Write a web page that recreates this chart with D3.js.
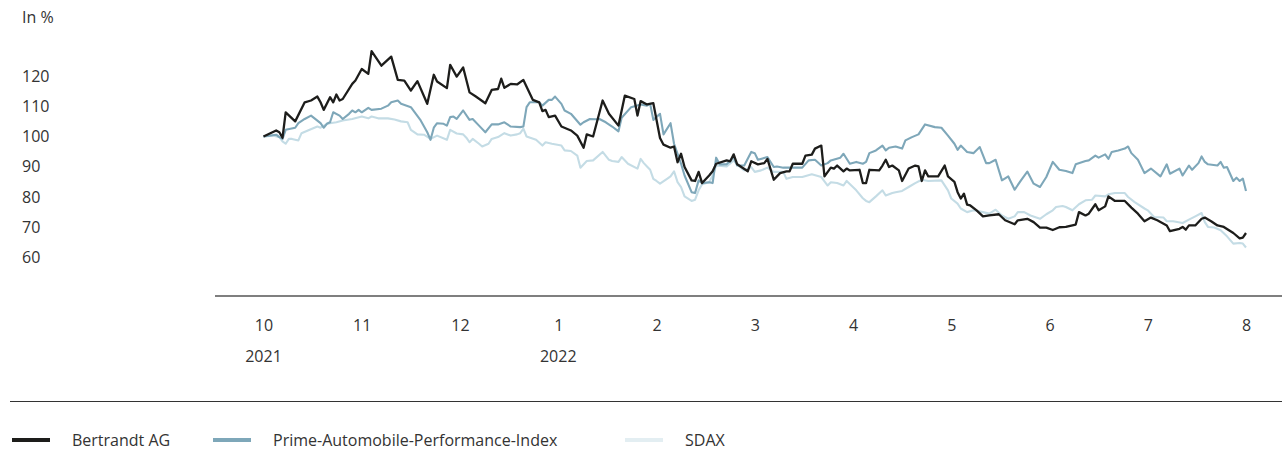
<!DOCTYPE html>
<html>
<head>
<meta charset="utf-8">
<script src="https://cdn.jsdelivr.net/npm/d3@7"></script>
<style>
  body { margin: 0; background: #fff; }
  svg text { font-family: "Open Sans", sans-serif; fill: #333; }
</style>
</head>
<body>
<svg id="chart" width="1282" height="450"></svg>
<script>
// Werte in % (Basis 100 = 1.10.2021)
const bertrandt = [["2021-10-01",100],["2021-10-05",102],["2021-10-06",101.4],["2021-10-07",99.6],["2021-10-08",108],["2021-10-11",105],["2021-10-14",111.3],["2021-10-16",111.9],["2021-10-18",113.2],["2021-10-19",111.3],["2021-10-20",108.8],["2021-10-22",113],["2021-10-23",111.3],["2021-10-24",113.9],["2021-10-25",111.9],["2021-10-26",112.4],["2021-10-29",117.4],["2021-10-30",118.5],["2021-11-01",122.3],["2021-11-03",120.7],["2021-11-04",128.2],["2021-11-07",123.4],["2021-11-10",126.4],["2021-11-12",118.7],["2021-11-14",118.5],["2021-11-16",115.2],["2021-11-18",118.3],["2021-11-21",110.8],["2021-11-23",120.4],["2021-11-24",118.2],["2021-11-27",116],["2021-11-28",123.7],["2021-11-30",119.8],["2021-12-02",122.8],["2021-12-04",114.6],["2021-12-06",113.2],["2021-12-09",111],["2021-12-11",115.4],["2021-12-13",115.7],["2021-12-14",119.1],["2021-12-15",116.1],["2021-12-17",117.4],["2021-12-19",117.2],["2021-12-21",118.7],["2021-12-24",112.1],["2021-12-26",111.3],["2021-12-27",108.4],["2021-12-28",108.8],["2021-12-29",106.4],["2021-12-31",106.9],["2022-01-02",103.3],["2022-01-05",102],["2022-01-07",100.3],["2022-01-09",96.3],["2022-01-10",100.7],["2022-01-12",100],["2022-01-15",111.9],["2022-01-17",107.5],["2022-01-20",103.6],["2022-01-22",113.5],["2022-01-25",112.4],["2022-01-26",106.9],["2022-01-27",111.7],["2022-01-29",110.6],["2022-01-31",111],["2022-02-02",99.5],["2022-02-03",97.3],["2022-02-05",96.3],["2022-02-06",96.7],["2022-02-07",91.5],["2022-02-08",94.3],["2022-02-09",89.9],["2022-02-11",85.5],["2022-02-12",85.3],["2022-02-13",88.3],["2022-02-14",84.6],["2022-02-16",87.1],["2022-02-17",88.5],["2022-02-18",91],["2022-02-21",92.1],["2022-02-22",91.8],["2022-02-23",94.1],["2022-02-24",90.8],["2022-02-27",88.5],["2022-02-28",91.8],["2022-03-02",90.8],["2022-03-04",91.2],["2022-03-05",92.6],["2022-03-07",85.7],["2022-03-09",87.9],["2022-03-11",88.5],["2022-03-12",88.5],["2022-03-13",91],["2022-03-16",91],["2022-03-17",93.7],["2022-03-19",94],["2022-03-20",96],["2022-03-22",97],["2022-03-23",86.8],["2022-03-25",89.7],["2022-03-26",89.4],["2022-03-27",90.4],["2022-03-29",88.5],["2022-03-30",89.4],["2022-03-31",88.8],["2022-04-03",89],["2022-04-04",84.6],["2022-04-05",84.6],["2022-04-06",89],["2022-04-09",88.8],["2022-04-10",90.4],["2022-04-11",92.3],["2022-04-12",89.9],["2022-04-13",90.4],["2022-04-15",88.8],["2022-04-16",85.3],["2022-04-18",89.4],["2022-04-20",90.4],["2022-04-21",90.1],["2022-04-22",85.3],["2022-04-23",88.8],["2022-04-24",86.8],["2022-04-27",86.8],["2022-04-29",90.4],["2022-04-30",86.8],["2022-05-02",85],["2022-05-03",81.6],["2022-05-04",79.5],["2022-05-05",81.1],["2022-05-06",77.5],["2022-05-07",77.2],["2022-05-09",75.6],["2022-05-11",73.6],["2022-05-13",73.9],["2022-05-16",74.3],["2022-05-18",72.3],["2022-05-21",71],["2022-05-22",72.3],["2022-05-25",72.8],["2022-05-27",71.7],["2022-05-29",69.9],["2022-05-31",69.9],["2022-06-02",69.1],["2022-06-04",70],["2022-06-06",70.1],["2022-06-09",70.9],["2022-06-10",75],["2022-06-12",73.9],["2022-06-13",74.5],["2022-06-15",77.6],["2022-06-16",75.6],["2022-06-18",76.9],["2022-06-19",80.2],["2022-06-21",78.7],["2022-06-24",78.7],["2022-06-26",76.5],["2022-06-28",74.5],["2022-06-30",72],["2022-07-02",73.2],["2022-07-04",72.3],["2022-07-07",70.6],["2022-07-08",68.7],["2022-07-11",69.5],["2022-07-12",70.1],["2022-07-13",69.2],["2022-07-14",70.6],["2022-07-16",70.6],["2022-07-18",72.8],["2022-07-19",73.2],["2022-07-21",72],["2022-07-23",70.6],["2022-07-25",70.1],["2022-07-28",68.1],["2022-07-30",66.3],["2022-07-31",66.6],["2022-08-01",68.1]];

const primeAuto = [["2021-10-01",100],["2021-10-05",100.6],["2021-10-06",99.8],["2021-10-07",99.2],["2021-10-08",102.2],["2021-10-11",102.9],["2021-10-12",104.4],["2021-10-14",105.8],["2021-10-16",106.9],["2021-10-19",104.4],["2021-10-20",102.9],["2021-10-21",104.2],["2021-10-22",104.7],["2021-10-23",108],["2021-10-25",106.9],["2021-10-26",105.8],["2021-10-28",107.5],["2021-10-29",108.6],["2021-10-30",108],["2021-10-31",108.8],["2021-11-01",108],["2021-11-03",109.5],["2021-11-04",108.8],["2021-11-07",109.2],["2021-11-09",110.2],["2021-11-10",111.3],["2021-11-12",111.9],["2021-11-13",110.8],["2021-11-16",109.7],["2021-11-19",105.3],["2021-11-21",101.4],["2021-11-22",98.9],["2021-11-23",102.9],["2021-11-24",104.4],["2021-11-26",104.2],["2021-11-27",103.6],["2021-11-28",106.4],["2021-11-29",106.6],["2021-11-30",105.8],["2021-12-02",108.6],["2021-12-04",105.5],["2021-12-05",105.8],["2021-12-07",103.6],["2021-12-09",101.4],["2021-12-11",104],["2021-12-13",104],["2021-12-15",104.7],["2021-12-17",103.3],["2021-12-20",103.1],["2021-12-21",103.3],["2021-12-22",109.7],["2021-12-23",111.3],["2021-12-26",111.3],["2021-12-27",110.2],["2021-12-29",112.1],["2021-12-30",112.1],["2021-12-31",113.2],["2022-01-02",110.8],["2022-01-03",108.6],["2022-01-05",107.5],["2022-01-08",103.9],["2022-01-09",104.7],["2022-01-11",105.8],["2022-01-13",105.7],["2022-01-14",105.8],["2022-01-16",104.7],["2022-01-18",103.3],["2022-01-20",101.7],["2022-01-21",106.2],["2022-01-24",109.7],["2022-01-27",110.6],["2022-01-29",110.2],["2022-01-30",110.8],["2022-01-31",105.5],["2022-02-02",107.5],["2022-02-03",100.7],["2022-02-05",104.4],["2022-02-06",97.6],["2022-02-08",91],["2022-02-09",87.1],["2022-02-11",81.6],["2022-02-12",81.3],["2022-02-13",85.5],["2022-02-14",84.6],["2022-02-16",84.9],["2022-02-17",84.6],["2022-02-18",93],["2022-02-19",90.8],["2022-02-21",90.8],["2022-02-23",93.2],["2022-02-24",90.4],["2022-02-26",90.4],["2022-02-28",94.9],["2022-03-01",94.5],["2022-03-02",92.3],["2022-03-05",93.2],["2022-03-07",89.9],["2022-03-08",90.1],["2022-03-10",89.7],["2022-03-13",89.7],["2022-03-16",89.7],["2022-03-18",92.1],["2022-03-20",92.3],["2022-03-22",90.4],["2022-03-24",91.2],["2022-03-25",92.1],["2022-03-28",93],["2022-03-29",94.3],["2022-03-31",91],["2022-04-02",91.6],["2022-04-04",91],["2022-04-05",91.6],["2022-04-06",94.5],["2022-04-08",95.4],["2022-04-10",97],["2022-04-11",95.4],["2022-04-12",96.3],["2022-04-14",96.7],["2022-04-16",96],["2022-04-17",98.7],["2022-04-19",99.8],["2022-04-21",100.7],["2022-04-23",104],["2022-04-26",103.1],["2022-04-28",102.9],["2022-04-30",100.3],["2022-05-02",97.6],["2022-05-03",95.6],["2022-05-04",97],["2022-05-06",94.9],["2022-05-08",94.5],["2022-05-10",96.5],["2022-05-12",91.2],["2022-05-13",91.2],["2022-05-15",92.3],["2022-05-17",85.5],["2022-05-19",86.8],["2022-05-21",82.4],["2022-05-23",85.5],["2022-05-25",88.4],["2022-05-27",84.4],["2022-05-29",83.3],["2022-05-31",86.6],["2022-06-02",91.6],["2022-06-04",89],["2022-06-06",88.6],["2022-06-08",87.9],["2022-06-09",90.8],["2022-06-12",91.9],["2022-06-13",92.1],["2022-06-15",93.7],["2022-06-16",93],["2022-06-18",94.1],["2022-06-19",92.6],["2022-06-20",94.9],["2022-06-22",95.4],["2022-06-24",96],["2022-06-25",96.7],["2022-06-26",94.5],["2022-06-28",92.3],["2022-06-30",87.9],["2022-07-02",89.4],["2022-07-05",86.8],["2022-07-07",90.8],["2022-07-08",87.7],["2022-07-11",89.4],["2022-07-12",87.1],["2022-07-14",90.4],["2022-07-15",89],["2022-07-17",91.2],["2022-07-18",93.4],["2022-07-19",91.6],["2022-07-20",90.8],["2022-07-23",90.4],["2022-07-24",91.6],["2022-07-25",89.7],["2022-07-26",89.9],["2022-07-28",85.3],["2022-07-29",86.4],["2022-07-30",85.3],["2022-07-31",86.1],["2022-08-01",82]];

const sdax = [["2021-10-01",100],["2021-10-04",100.3],["2021-10-06",99.8],["2021-10-07",98.4],["2021-10-08",97.6],["2021-10-09",99.2],["2021-10-10",99.2],["2021-10-12",98.7],["2021-10-13",101.1],["2021-10-15",102],["2021-10-18",103.3],["2021-10-19",102.9],["2021-10-21",104.2],["2021-10-24",104.7],["2021-10-26",105.3],["2021-10-29",105.8],["2021-11-01",106.6],["2021-11-03",106],["2021-11-04",106.6],["2021-11-06",106],["2021-11-09",106],["2021-11-11",105.6],["2021-11-13",105],["2021-11-15",104.7],["2021-11-16",102.2],["2021-11-18",100.7],["2021-11-20",100.6],["2021-11-22",99.2],["2021-11-24",100.3],["2021-11-27",98.9],["2021-11-28",102.2],["2021-11-30",101],["2021-12-02",100.7],["2021-12-03",99.6],["2021-12-04",98.1],["2021-12-05",99.2],["2021-12-07",97.6],["2021-12-08",96.7],["2021-12-10",97.6],["2021-12-11",99.2],["2021-12-13",99.8],["2021-12-15",101.1],["2021-12-17",100.3],["2021-12-19",100.7],["2021-12-20",101.1],["2021-12-21",102.6],["2021-12-22",100],["2021-12-25",98.9],["2021-12-27",97],["2021-12-28",98.1],["2021-12-30",97.6],["2022-01-02",97],["2022-01-03",95.4],["2022-01-05",95.2],["2022-01-07",93.7],["2022-01-08",89.7],["2022-01-10",91.9],["2022-01-12",92.1],["2022-01-15",94.9],["2022-01-17",92.3],["2022-01-18",91.9],["2022-01-20",91.6],["2022-01-21",93.2],["2022-01-23",91],["2022-01-26",89.4],["2022-01-27",92.6],["2022-01-28",91.2],["2022-01-29",90.1],["2022-01-30",89],["2022-01-31",86],["2022-02-01",85.3],["2022-02-02",84.4],["2022-02-04",86],["2022-02-05",86.8],["2022-02-06",88.5],["2022-02-07",84.9],["2022-02-08",83.3],["2022-02-09",80.2],["2022-02-11",78.7],["2022-02-12",79.1],["2022-02-13",82.2],["2022-02-14",84.2],["2022-02-16",84.9],["2022-02-17",87.1],["2022-02-18",90.4],["2022-02-21",90.1],["2022-02-23",92.1],["2022-02-25",89.7],["2022-02-26",88.8],["2022-02-28",89.9],["2022-03-01",88.3],["2022-03-03",88.8],["2022-03-05",89.7],["2022-03-07",88.3],["2022-03-10",88.3],["2022-03-11",86],["2022-03-13",86.6],["2022-03-16",86.6],["2022-03-19",87.5],["2022-03-22",86.6],["2022-03-24",83.8],["2022-03-25",84.9],["2022-03-27",84.6],["2022-03-29",83.8],["2022-03-30",85.3],["2022-04-02",82.2],["2022-04-04",79.6],["2022-04-05",78.7],["2022-04-06",78.3],["2022-04-08",80.2],["2022-04-10",82.2],["2022-04-11",80.5],["2022-04-13",81.3],["2022-04-14",81.6],["2022-04-16",82],["2022-04-18",83.3],["2022-04-20",84.6],["2022-04-22",85.7],["2022-04-24",85.3],["2022-04-28",85.5],["2022-04-30",82.2],["2022-05-01",79.5],["2022-05-03",77.8],["2022-05-04",76.2],["2022-05-06",75],["2022-05-08",75.6],["2022-05-11",75],["2022-05-13",74.5],["2022-05-15",75.8],["2022-05-17",73.9],["2022-05-19",72.8],["2022-05-21",73.6],["2022-05-22",75],["2022-05-24",75],["2022-05-26",73.9],["2022-05-29",72.8],["2022-05-31",74.3],["2022-06-02",75.6],["2022-06-03",76.7],["2022-06-05",77],["2022-06-06",76.7],["2022-06-08",75.6],["2022-06-10",77.6],["2022-06-12",78.9],["2022-06-14",79.1],["2022-06-15",80.5],["2022-06-18",80.2],["2022-06-19",80.9],["2022-06-21",81.3],["2022-06-24",81.3],["2022-06-25",80],["2022-06-27",78.3],["2022-06-30",76.2],["2022-07-01",75.6],["2022-07-03",73.4],["2022-07-06",73.2],["2022-07-07",72],["2022-07-09",72],["2022-07-12",71.4],["2022-07-14",72.5],["2022-07-16",73.6],["2022-07-18",74.7],["2022-07-19",71.7],["2022-07-20",70.1],["2022-07-22",69.9],["2022-07-24",69],["2022-07-26",67],["2022-07-28",64.6],["2022-07-30",64.8],["2022-07-31",64.6],["2022-08-01",63.3]];

const yTicks = [60, 70, 80, 90, 100, 110, 120];
const monthStarts = ["2021-10-01","2021-11-01","2021-12-01","2022-01-01","2022-02-01","2022-03-01","2022-04-01","2022-05-01","2022-06-01","2022-07-01","2022-08-01"];
const yearLabels = [["2021-10-01","2021"],["2022-01-01","2022"]];

const seriesNames = ["Bertrandt AG", "Prime-Automobile-Performance-Index", "SDAX"];
const seriesColors = ["#1d1d1b", "#7ea7b9", "#c4dce5"];

const parse = d3.timeParse("%Y-%m-%d");
const svg = d3.select("#chart");
const fs = "16px";

// Monate gleich breit, wie im Original
const months = monthStarts.map(parse);
const x = d3.scaleTime()
    .domain(months)
    .range(months.map((d, i) => 263.5 + i * 98.25));

const y = d3.scaleLinear().domain([60, 120]).range([257.5, 76]);

// Einheit
svg.append("text")
    .attr("x", 22).attr("y", 23)
    .style("font-size", fs)
    .text("In %");

// Y-Achse (nur Beschriftung)
const yAxis = svg.append("g")
    .call(d3.axisLeft(y).tickValues(yTicks).tickSize(0));
yAxis.select(".domain").remove();
yAxis.selectAll("text")
    .attr("x", 22).attr("dx", 0)
    .attr("text-anchor", "start")
    .style("font-size", fs)
    .style("font-family", "'Open Sans', sans-serif")
    .attr("fill", "#333");

// Grundlinie
svg.append("line")
    .attr("x1", 215).attr("x2", 1282)
    .attr("y1", 296).attr("y2", 296)
    .attr("stroke", "#555").attr("stroke-width", 1.3);

// X-Achse: Monate
const xAxis = svg.append("g")
    .attr("transform", "translate(0,320)")
    .call(d3.axisBottom(x).tickValues(months).tickSize(0).tickFormat(d => d.getMonth() + 1));
xAxis.select(".domain").remove();
xAxis.selectAll("text")
    .attr("y", 0).attr("dy", "0.71em")
    .style("font-size", fs)
    .style("font-family", "'Open Sans', sans-serif")
    .attr("fill", "#333");

// Jahre
svg.append("g").selectAll("text").data(yearLabels).join("text")
    .attr("x", d => x(parse(d[0])))
    .attr("y", 362)
    .attr("text-anchor", "middle")
    .style("font-size", fs)
    .text(d => d[1]);

// Linien
const line = d3.line()
    .x(d => x(parse(d[0])))
    .y(d => y(d[1]));

const allSeries = [bertrandt, primeAuto, sdax];
[2, 1, 0].forEach(i => {
    svg.append("path")
        .datum(allSeries[i])
        .attr("fill", "none")
        .attr("stroke", seriesColors[i])
        .attr("stroke-width", i == 0 ? 2.3 : 2.1)
        .attr("stroke-linejoin", "round")
        .attr("d", line);
});

// Trennlinie
svg.append("line")
    .attr("x1", 10).attr("x2", 1282)
    .attr("y1", 401.5).attr("y2", 401.5)
    .attr("stroke", "#333").attr("stroke-width", 1);

// Legende
const legendX = [12, 213, 625];
const legend = svg.append("g");
seriesNames.forEach((name, i) => {
    legend.append("line")
        .attr("x1", legendX[i]).attr("x2", legendX[i] + 38)
        .attr("y1", 440).attr("y2", 440)
        .attr("stroke", i == 2 ? "#e3eef2" : seriesColors[i])
        .attr("stroke-width", 4);
    legend.append("text")
        .attr("x", legendX[i] + 60).attr("y", 446)
        .style("font-size", fs)
        .text(name);
});
</script>
</body>
</html>
